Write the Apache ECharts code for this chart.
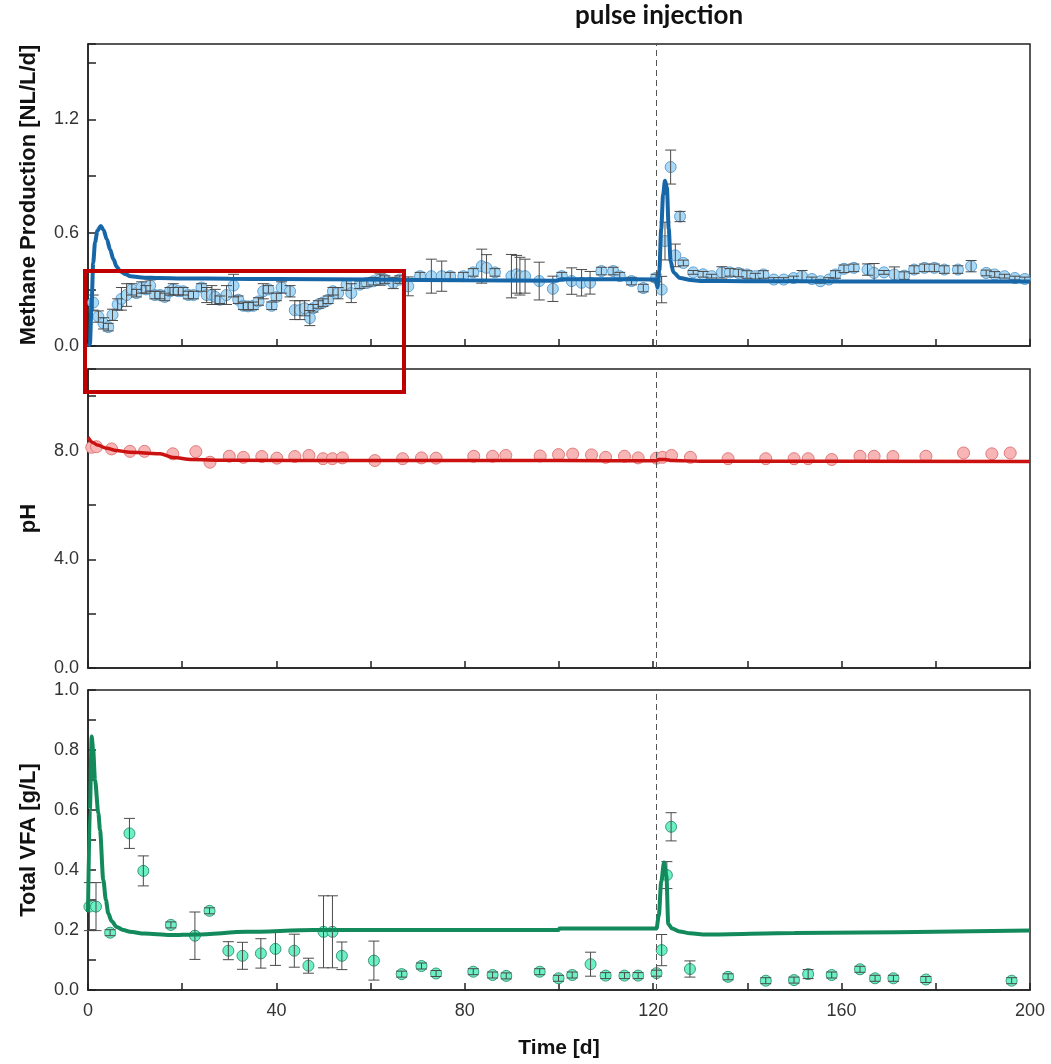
<!DOCTYPE html>
<html>
<head>
<meta charset="utf-8">
<script src="https://cdn.jsdelivr.net/npm/echarts@6/dist/echarts.min.js"></script>
<style>
html,body{margin:0;padding:0;background:#fff;}
#c{width:1051px;height:1064px;}
</style>
</head>
<body>
<div id="c"></div>
<script>
// ---------- Methane production (measured) ----------
const ch4T = [1.1,2.2,3.3,4.3,5.2,6.3,7.1,8.2,9.3,10.3,11.4,12.3,13.2,14.2,15.3,16.3,17.4,18.1,19.2,20.2,21.3,22.4,24.1,25.2,26.3,27.0,28.0,29.4,30.9,31.9,33.0,34.0,35.1,36.2,37.2,38.3,39.0,40.0,41.1,42.9,43.9,45.0,46.0,47.1,47.8,48.9,49.9,51.0,52.0,53.1,54.9,55.9,57.7,59.2,60.6,62.0,63.0,64.8,66.2,68.0,70.5,72.9,75.1,76.9,79.7,81.8,83.6,84.6,86.4,89.9,91.0,91.7,92.8,95.8,98.7,100.6,102.7,104.8,106.6,109.0,111.5,112.9,115.4,117.9,120.6,121.8,122.5,123.7,124.7,125.7,126.4,128.5,130.6,132.4,134.6,136.3,138.1,139.9,141.7,143.4,145.6,147.7,149.8,151.6,153.7,155.5,157.3,158.7,160.5,162.6,165.5,166.9,169.0,171.2,173.3,175.4,177.6,179.7,181.8,184.7,187.5,190.7,192.5,194.6,196.8,198.9];
const ch4V = [0.23,0.156,0.12,0.10,0.165,0.22,0.25,0.27,0.30,0.28,0.31,0.30,0.32,0.27,0.27,0.26,0.29,0.30,0.29,0.29,0.27,0.27,0.31,0.27,0.27,0.26,0.245,0.27,0.32,0.245,0.213,0.21,0.213,0.236,0.29,0.30,0.213,0.26,0.31,0.29,0.19,0.19,0.20,0.148,0.20,0.22,0.23,0.245,0.29,0.28,0.325,0.28,0.325,0.334,0.343,0.352,0.352,0.334,0.352,0.316,0.37,0.37,0.37,0.37,0.37,0.39,0.423,0.414,0.39,0.37,0.38,0.37,0.37,0.344,0.303,0.37,0.344,0.335,0.335,0.397,0.397,0.37,0.344,0.307,0.36,0.299,0.556,0.948,0.48,0.686,0.44,0.39,0.38,0.37,0.39,0.39,0.387,0.379,0.37,0.379,0.352,0.352,0.36,0.37,0.355,0.343,0.352,0.379,0.409,0.414,0.405,0.387,0.39,0.379,0.373,0.405,0.414,0.414,0.405,0.405,0.423,0.387,0.379,0.37,0.36,0.355];
const ch4E = [0.04,0.03,0.03,0.02,0.03,0.03,0.06,0.06,0.03,0.02,0.03,0.02,0.03,0.02,0.02,0.02,0.02,0.03,0.02,0.02,0.02,0.02,0.02,0.04,0.05,0.04,0.02,0.05,0.06,0.02,0.02,0.02,0.02,0.02,0.04,0.02,0.02,0.02,0.03,0.03,0.05,0.05,0.04,0.04,0.02,0.02,0.02,0.02,0.02,0.03,0.03,0.05,0.02,0.02,0.02,0.03,0.02,0.03,0.02,0.05,0.02,0.09,0.08,0.02,0.02,0.02,0.09,0.07,0.02,0.115,0.1,0.1,0.09,0.1,0.067,0.02,0.07,0.07,0.06,0.02,0.02,0.02,0.02,0.02,0.02,0.07,0.1,0.09,0.06,0.027,0.015,0.01,0.015,0.01,0.03,0.02,0.02,0.02,0.015,0.02,0.01,0.01,0.01,0.03,0.01,0.01,0.01,0.02,0.02,0.02,0.03,0.05,0.01,0.04,0.02,0.02,0.02,0.02,0.02,0.02,0.03,0.015,0.015,0.01,0.01,0.01];
// Methane production (model)
const ch4ModelT = [0,0.4,0.8,1.1,1.5,2.0,2.7,3.3,4.0,4.7,5.4,6.1,6.8,8,9,12,15,20,30,40,60,80,99.5,100.5,110,120.5,120.9,121.3,121.7,122.1,122.5,122.9,123.3,123.7,124.3,125.7,128,130,140,160,200];
const ch4ModelV = [0,0.01,0.25,0.44,0.55,0.61,0.636,0.615,0.565,0.51,0.459,0.42,0.396,0.38,0.37,0.362,0.36,0.358,0.356,0.355,0.352,0.348,0.346,0.354,0.354,0.352,0.31,0.4,0.62,0.8,0.875,0.84,0.62,0.45,0.39,0.36,0.35,0.345,0.343,0.342,0.342];

// ---------- pH ----------
const phT = [0.8,1.8,5.0,8.9,12.0,18.0,22.9,25.9,30.0,33.0,36.9,40.1,43.9,46.9,49.9,51.9,54.0,60.9,66.8,70.8,73.9,81.9,85.9,88.7,96.0,99.9,102.9,106.9,109.9,113.9,116.8,120.7,122.0,123.9,127.9,135.9,143.9,149.9,152.9,157.9,163.9,166.9,170.9,177.9,185.9,191.9,195.8];
const phV = [8.12,8.14,8.06,7.97,7.97,7.88,7.96,7.57,7.79,7.75,7.78,7.72,7.78,7.82,7.70,7.70,7.73,7.63,7.70,7.73,7.72,7.79,7.79,7.82,7.80,7.85,7.87,7.84,7.75,7.79,7.73,7.72,7.75,7.82,7.75,7.70,7.70,7.70,7.70,7.67,7.79,7.79,7.78,7.79,7.91,7.88,7.91];
const phModelT = [0,1,2,4,6,8.9,12,15.3,18.1,22,30,60,100,120.5,121.2,122.5,124,130,200];
const phModelV = [8.49,8.3,8.2,8.08,8.0,7.94,7.91,7.88,7.74,7.67,7.64,7.63,7.63,7.62,7.67,7.67,7.63,7.61,7.6];

// ---------- Total VFA ----------
const vfaT = [0.3,1.7,4.7,8.8,11.75,17.6,22.7,25.8,29.8,32.8,36.7,39.8,43.8,46.8,50.0,51.9,53.9,60.7,66.6,70.8,73.9,81.8,85.9,88.8,95.9,99.9,102.8,106.7,109.9,113.9,116.8,120.7,121.8,122.9,123.8,127.8,135.9,143.9,149.9,152.9,157.9,163.9,167.1,171.0,177.9,196.1];
const vfaV = [0.278,0.278,0.191,0.522,0.397,0.217,0.181,0.264,0.131,0.114,0.122,0.137,0.131,0.081,0.194,0.194,0.114,0.098,0.053,0.08,0.055,0.061,0.05,0.047,0.061,0.039,0.05,0.086,0.048,0.048,0.048,0.056,0.133,0.383,0.544,0.07,0.044,0.031,0.033,0.053,0.05,0.069,0.039,0.039,0.035,0.031];
const vfaE = [0.08,0.08,0.01,0.05,0.05,0.01,0.079,0.01,0.03,0.045,0.049,0.055,0.055,0.025,0.12,0.12,0.046,0.065,0.01,0.01,0.01,0.01,0.01,0.01,0.01,0.01,0.01,0.04,0.01,0.01,0.01,0.01,0.052,0.045,0.047,0.027,0.01,0.01,0.01,0.015,0.01,0.01,0.01,0.01,0.01,0.01];
const vfaModelT = [0,0.4,0.78,1.1,1.49,2.2,2.55,3.25,3.8,4.3,5,6.1,7.5,8.9,12,17.4,23,33.7,47.8,99.9,100.1,120.7,121.2,121.7,122.3,122.8,123.2,124,125.6,127.8,131.3,150,200];
const vfaModelV = [0.26,0.6,0.845,0.8,0.7,0.589,0.533,0.367,0.3,0.256,0.23,0.21,0.2,0.194,0.188,0.183,0.185,0.194,0.2,0.2,0.205,0.205,0.25,0.36,0.425,0.38,0.22,0.205,0.195,0.189,0.185,0.19,0.198];

// tick label sets
const xTickLabels = [0,40,80,120,160,200];
const ch4TickLabels = [0,0.6,1.2];
const phTickLabels = [0,4,8];
const vfaTickLabels = [0,0.2,0.4,0.6,0.8,1.0];
const pulseDay = 120.7;

const zip = (a,b) => a.map((x,i)=>[x,b[i]]);
const has = (arr,v) => arr.some(a => Math.abs(a-v) < 1e-6);
const FONT = '"Liberation Sans", Arial, sans-serif';
const AX = '#222';

function xAxis(gi, showLabel){
  const o = {
    type:'value', gridIndex:gi, min:0, max:200, interval:20,
    axisLine:{show:true, onZero:false, lineStyle:{color:AX, width:1.5}},
    axisTick:{show:true, inside:true, length:7, lineStyle:{color:AX, width:1.5}},
    axisLabel:{show:showLabel, margin:12, color:'#333', fontSize:18, fontFamily:FONT,
      formatter: v => has(xTickLabels, v) ? String(v) : ''},
    splitLine:{show:false}
  };
  if (showLabel){
    o.name = 'Time [d]'; o.nameLocation='middle'; o.nameGap=48;
    o.nameTextStyle = {fontSize:21, fontWeight:'bold', color:'#111', fontFamily:FONT};
  }
  return o;
}
function yAxis(gi, max, interval, labels, digits, name, gap){
  return {
    type:'value', gridIndex:gi, min:0, max:max, interval:interval,
    name:name, nameLocation:'middle', nameGap:gap, nameRotate:90,
    nameTextStyle:{fontSize:22, fontWeight:'bold', color:'#111', fontFamily:FONT},
    axisLine:{show:true, onZero:false, lineStyle:{color:AX, width:1.5}},
    axisTick:{show:true, inside:true, length:8, lineStyle:{color:AX, width:1.5}},
    axisLabel:{margin:9, color:'#333', fontSize:18, fontFamily:FONT,
      formatter: v => has(labels, v) ? v.toFixed(digits) : ''},
    splitLine:{show:false}
  };
}
function errBars(gi, t, v, e){
  return {
    type:'custom', xAxisIndex:gi, yAxisIndex:gi, z:4, silent:true,
    data: t.map((x,i)=>[x, v[i]-e[i], v[i]+e[i]]),
    renderItem: (params, api) => {
      const x = api.value(0);
      const p1 = api.coord([x, api.value(1)]);
      const p2 = api.coord([x, api.value(2)]);
      const w = 5.5, st = {stroke:'#4a4a4a', lineWidth:1};
      return {type:'group', children:[
        {type:'line', shape:{x1:p1[0],y1:p1[1],x2:p2[0],y2:p2[1]}, style:st},
        {type:'line', shape:{x1:p1[0]-w,y1:p1[1],x2:p1[0]+w,y2:p1[1]}, style:st},
        {type:'line', shape:{x1:p2[0]-w,y1:p2[1],x2:p2[0]+w,y2:p2[1]}, style:st}
      ]};
    }
  };
}
function pulseLine(){
  return {silent:true, symbol:['none','none'], label:{show:false},
    lineStyle:{type:[6,4], color:'#555', width:1}, data:[{xAxis:pulseDay}]};
}
function scatter(gi, t, v, fill, border, size){
  return {type:'scatter', xAxisIndex:gi, yAxisIndex:gi, z:3, symbol:'circle', symbolSize:size,
    data: zip(t,v), itemStyle:{color:fill, borderColor:border, borderWidth:1, opacity:1},
    markLine: pulseLine()};
}
function model(gi, t, v, color, width){
  return {type:'line', xAxisIndex:gi, yAxisIndex:gi, z:5, data:zip(t,v), showSymbol:false,
    smooth:0.3, smoothMonotone:'x', lineStyle:{color:color, width:width}, silent:true};
}

const grids = [
  {left:88, right:21, top:44, height:302},
  {left:88, right:21, top:369, height:299},
  {left:88, right:21, top:690, height:300}
].map(g => Object.assign(g, {show:true, borderColor:AX, borderWidth:1.5, backgroundColor:'transparent'}));

const chart = echarts.init(document.getElementById('c'), null, {renderer:'canvas'});
chart.setOption({
  animation:false,
  backgroundColor:'#fff',
  grid: grids,
  xAxis:[xAxis(0,false), xAxis(1,false), xAxis(2,true)],
  yAxis:[
    yAxis(0, 1.6, 0.3, ch4TickLabels, 1, 'Methane Production [NL/L/d]', 48),
    yAxis(1, 11, 2, phTickLabels, 1, 'pH', 48),
    yAxis(2, 1.0, 0.1, vfaTickLabels, 1, 'Total VFA [g/L]', 48)
  ],
  series:[
    scatter(0, ch4T, ch4V, '#aad9f6', '#5f9fcf', 11),
    errBars(0, ch4T, ch4V, ch4E),
    model(0, ch4ModelT, ch4ModelV, '#1666a8', 4),
    scatter(1, phT, phV, '#f7b5b5', '#e07b7b', 12),
    model(1, phModelT, phModelV, '#cc1111', 3.5),
    scatter(2, vfaT, vfaV, '#6cf0c6', '#3a9a78', 11),
    errBars(2, vfaT, vfaV, vfaE),
    model(2, vfaModelT, vfaModelV, '#138a5c', 4)
  ],
  graphic:[
    {type:'text', left:575, top:3, z:100,
     style:{text:'pulse injection', fontSize:26, fontWeight:'bold', fontFamily:'Lato, "Open Sans", sans-serif', fill:'#111'}},
    {type:'rect', z:100, shape:{x:85, y:271, width:319, height:121},
     style:{fill:'none', stroke:'#c00000', lineWidth:4}}
  ]
});
</script>
</body>
</html>
